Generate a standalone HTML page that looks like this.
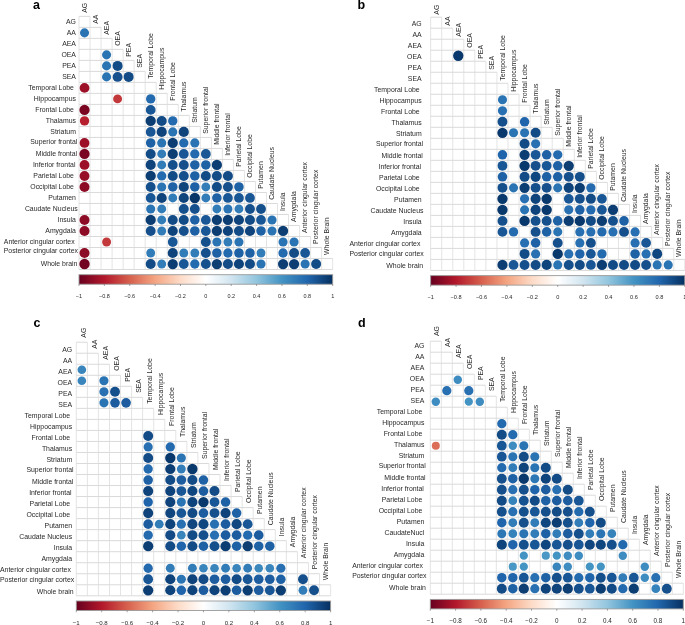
<!DOCTYPE html><html><head><meta charset="utf-8"><style>html,body{margin:0;padding:0;background:#fff;}svg{display:block;will-change:transform;}</style></head><body><svg width="685" height="625" viewBox="0 0 685 625">
<defs><linearGradient id="rdbu" x1="0" x2="1" y1="0" y2="0">
<stop offset="0.0" stop-color="#67001F"/>
<stop offset="0.1" stop-color="#B2182B"/>
<stop offset="0.2" stop-color="#D6604D"/>
<stop offset="0.3" stop-color="#F4A582"/>
<stop offset="0.4" stop-color="#FDDBC7"/>
<stop offset="0.5" stop-color="#FFFFFF"/>
<stop offset="0.6" stop-color="#D1E5F0"/>
<stop offset="0.7" stop-color="#92C5DE"/>
<stop offset="0.8" stop-color="#4393C3"/>
<stop offset="0.9" stop-color="#2166AC"/>
<stop offset="1.0" stop-color="#053061"/>
</linearGradient></defs>
<rect width="685" height="625" fill="#fff"/>
<path d="M79.00 16.35V269.51M90.03 16.35V269.51M101.06 27.36V269.51M112.09 38.36V269.51M123.12 49.37V269.51M134.15 60.38V269.51M145.18 71.38V269.51M156.21 82.39V269.51M167.24 93.40V269.51M178.27 104.41V269.51M189.30 115.41V269.51M200.33 126.42V269.51M211.36 137.43V269.51M222.39 148.43V269.51M233.42 159.44V269.51M244.45 170.45V269.51M255.48 181.45V269.51M266.51 192.46V269.51M277.54 203.47V269.51M288.57 214.48V269.51M299.60 225.48V269.51M310.63 236.49V269.51M321.66 247.50V269.51M332.69 258.50V269.51" stroke="#e4e4e4" stroke-width="1" fill="none"/>
<path d="M79.00 16.35H90.03M79.00 27.36H101.06M79.00 38.36H112.09M79.00 49.37H123.12M79.00 60.38H134.15M79.00 71.38H145.18M79.00 82.39H156.21M79.00 93.40H167.24M79.00 104.41H178.27M79.00 115.41H189.30M79.00 126.42H200.33M79.00 137.43H211.36M79.00 148.43H222.39M79.00 159.44H233.42M79.00 170.45H244.45M79.00 181.45H255.48M79.00 192.46H266.51M79.00 203.47H277.54M79.00 214.48H288.57M79.00 225.48H299.60M79.00 236.49H310.63M79.00 247.50H321.66M79.00 258.50H332.69M79.00 269.51H332.69" stroke="#dadada" stroke-width="1" fill="none"/>
<circle cx="84.52" cy="32.86" r="4.56" fill="#2b74b3"/>
<circle cx="106.58" cy="54.87" r="4.56" fill="#2b74b3"/>
<circle cx="106.58" cy="65.88" r="4.56" fill="#2b74b3"/>
<circle cx="117.60" cy="65.88" r="5.00" fill="#134b86"/>
<circle cx="106.58" cy="76.89" r="4.56" fill="#2b74b3"/>
<circle cx="117.60" cy="76.89" r="4.95" fill="#154f8c"/>
<circle cx="128.63" cy="76.89" r="5.00" fill="#134b86"/>
<circle cx="84.52" cy="87.90" r="4.89" fill="#9c1127"/>
<circle cx="117.60" cy="98.90" r="4.47" fill="#c3393b"/>
<circle cx="150.69" cy="98.90" r="4.67" fill="#246aae"/>
<circle cx="84.52" cy="109.91" r="5.12" fill="#7a0622"/>
<circle cx="150.69" cy="109.91" r="4.89" fill="#195696"/>
<circle cx="84.52" cy="120.92" r="4.67" fill="#b61f2e"/>
<circle cx="150.69" cy="120.92" r="5.12" fill="#0c3e74"/>
<circle cx="161.72" cy="120.92" r="5.00" fill="#134b86"/>
<circle cx="172.75" cy="120.92" r="4.67" fill="#246aae"/>
<circle cx="150.69" cy="131.92" r="4.89" fill="#195696"/>
<circle cx="161.72" cy="131.92" r="5.07" fill="#0f437b"/>
<circle cx="172.75" cy="131.92" r="4.56" fill="#2b74b3"/>
<circle cx="183.78" cy="131.92" r="5.07" fill="#0f437b"/>
<circle cx="84.52" cy="142.93" r="4.89" fill="#9c1127"/>
<circle cx="150.69" cy="142.93" r="4.78" fill="#1e61a5"/>
<circle cx="161.72" cy="142.93" r="4.56" fill="#2b74b3"/>
<circle cx="172.75" cy="142.93" r="5.12" fill="#0c3e74"/>
<circle cx="183.78" cy="142.93" r="4.67" fill="#246aae"/>
<circle cx="194.81" cy="142.93" r="4.56" fill="#2b74b3"/>
<circle cx="84.52" cy="153.94" r="5.12" fill="#7a0622"/>
<circle cx="150.69" cy="153.94" r="5.00" fill="#134b86"/>
<circle cx="161.72" cy="153.94" r="4.44" fill="#327cb8"/>
<circle cx="172.75" cy="153.94" r="5.12" fill="#0c3e74"/>
<circle cx="183.78" cy="153.94" r="4.89" fill="#195696"/>
<circle cx="194.81" cy="153.94" r="4.67" fill="#246aae"/>
<circle cx="205.84" cy="153.94" r="4.89" fill="#195696"/>
<circle cx="84.52" cy="164.94" r="4.89" fill="#9c1127"/>
<circle cx="150.69" cy="164.94" r="5.07" fill="#0f437b"/>
<circle cx="161.72" cy="164.94" r="4.44" fill="#327cb8"/>
<circle cx="172.75" cy="164.94" r="4.95" fill="#154f8c"/>
<circle cx="183.78" cy="164.94" r="4.95" fill="#154f8c"/>
<circle cx="194.81" cy="164.94" r="4.78" fill="#1e61a5"/>
<circle cx="205.84" cy="164.94" r="4.78" fill="#1e61a5"/>
<circle cx="216.88" cy="164.94" r="5.12" fill="#0c3e74"/>
<circle cx="84.52" cy="175.95" r="4.93" fill="#960f26"/>
<circle cx="150.69" cy="175.95" r="5.12" fill="#0c3e74"/>
<circle cx="161.72" cy="175.95" r="4.67" fill="#246aae"/>
<circle cx="172.75" cy="175.95" r="5.00" fill="#134b86"/>
<circle cx="183.78" cy="175.95" r="4.95" fill="#154f8c"/>
<circle cx="194.81" cy="175.95" r="4.78" fill="#1e61a5"/>
<circle cx="205.84" cy="175.95" r="5.00" fill="#134b86"/>
<circle cx="216.88" cy="175.95" r="5.00" fill="#134b86"/>
<circle cx="227.91" cy="175.95" r="5.00" fill="#134b86"/>
<circle cx="84.52" cy="186.96" r="5.00" fill="#8c0c25"/>
<circle cx="150.69" cy="186.96" r="4.95" fill="#154f8c"/>
<circle cx="161.72" cy="186.96" r="4.56" fill="#2b74b3"/>
<circle cx="172.75" cy="186.96" r="4.78" fill="#1e61a5"/>
<circle cx="183.78" cy="186.96" r="5.07" fill="#0f437b"/>
<circle cx="194.81" cy="186.96" r="4.78" fill="#1e61a5"/>
<circle cx="205.84" cy="186.96" r="4.44" fill="#327cb8"/>
<circle cx="216.88" cy="186.96" r="5.00" fill="#134b86"/>
<circle cx="227.91" cy="186.96" r="4.95" fill="#154f8c"/>
<circle cx="238.94" cy="186.96" r="4.78" fill="#1e61a5"/>
<circle cx="150.69" cy="197.97" r="4.89" fill="#195696"/>
<circle cx="161.72" cy="197.97" r="5.07" fill="#0f437b"/>
<circle cx="172.75" cy="197.97" r="4.44" fill="#327cb8"/>
<circle cx="183.78" cy="197.97" r="5.07" fill="#0f437b"/>
<circle cx="194.81" cy="197.97" r="5.20" fill="#083568"/>
<circle cx="205.84" cy="197.97" r="4.44" fill="#327cb8"/>
<circle cx="216.88" cy="197.97" r="4.78" fill="#1e61a5"/>
<circle cx="227.91" cy="197.97" r="4.89" fill="#195696"/>
<circle cx="238.94" cy="197.97" r="4.89" fill="#195696"/>
<circle cx="249.97" cy="197.97" r="4.89" fill="#195696"/>
<circle cx="150.69" cy="208.97" r="4.56" fill="#2b74b3"/>
<circle cx="161.72" cy="208.97" r="4.44" fill="#327cb8"/>
<circle cx="183.78" cy="208.97" r="4.95" fill="#154f8c"/>
<circle cx="194.81" cy="208.97" r="4.95" fill="#154f8c"/>
<circle cx="216.88" cy="208.97" r="4.44" fill="#327cb8"/>
<circle cx="227.91" cy="208.97" r="4.56" fill="#2b74b3"/>
<circle cx="238.94" cy="208.97" r="4.44" fill="#327cb8"/>
<circle cx="249.97" cy="208.97" r="4.95" fill="#154f8c"/>
<circle cx="261.00" cy="208.97" r="4.95" fill="#154f8c"/>
<circle cx="84.52" cy="219.98" r="5.00" fill="#8c0c25"/>
<circle cx="150.69" cy="219.98" r="5.12" fill="#0c3e74"/>
<circle cx="161.72" cy="219.98" r="4.44" fill="#327cb8"/>
<circle cx="172.75" cy="219.98" r="5.00" fill="#134b86"/>
<circle cx="183.78" cy="219.98" r="5.00" fill="#134b86"/>
<circle cx="194.81" cy="219.98" r="4.78" fill="#1e61a5"/>
<circle cx="205.84" cy="219.98" r="4.89" fill="#195696"/>
<circle cx="216.88" cy="219.98" r="5.12" fill="#0c3e74"/>
<circle cx="227.91" cy="219.98" r="5.12" fill="#0c3e74"/>
<circle cx="238.94" cy="219.98" r="5.07" fill="#0f437b"/>
<circle cx="249.97" cy="219.98" r="5.00" fill="#134b86"/>
<circle cx="261.00" cy="219.98" r="4.89" fill="#195696"/>
<circle cx="272.02" cy="219.98" r="4.56" fill="#2b74b3"/>
<circle cx="84.52" cy="230.99" r="5.00" fill="#8c0c25"/>
<circle cx="150.69" cy="230.99" r="4.95" fill="#154f8c"/>
<circle cx="161.72" cy="230.99" r="4.44" fill="#327cb8"/>
<circle cx="172.75" cy="230.99" r="5.07" fill="#0f437b"/>
<circle cx="183.78" cy="230.99" r="4.95" fill="#154f8c"/>
<circle cx="194.81" cy="230.99" r="4.78" fill="#1e61a5"/>
<circle cx="205.84" cy="230.99" r="4.89" fill="#195696"/>
<circle cx="216.88" cy="230.99" r="5.12" fill="#0c3e74"/>
<circle cx="227.91" cy="230.99" r="5.07" fill="#0f437b"/>
<circle cx="238.94" cy="230.99" r="5.00" fill="#134b86"/>
<circle cx="249.97" cy="230.99" r="5.07" fill="#0f437b"/>
<circle cx="261.00" cy="230.99" r="4.78" fill="#1e61a5"/>
<circle cx="272.02" cy="230.99" r="4.56" fill="#2b74b3"/>
<circle cx="283.05" cy="230.99" r="5.12" fill="#0c3e74"/>
<circle cx="106.58" cy="241.99" r="4.47" fill="#c3393b"/>
<circle cx="172.75" cy="241.99" r="4.89" fill="#195696"/>
<circle cx="205.84" cy="241.99" r="4.95" fill="#154f8c"/>
<circle cx="216.88" cy="241.99" r="4.56" fill="#2b74b3"/>
<circle cx="227.91" cy="241.99" r="4.44" fill="#327cb8"/>
<circle cx="238.94" cy="241.99" r="4.56" fill="#2b74b3"/>
<circle cx="283.05" cy="241.99" r="4.56" fill="#2b74b3"/>
<circle cx="294.08" cy="241.99" r="4.56" fill="#2b74b3"/>
<circle cx="84.52" cy="253.00" r="5.00" fill="#8c0c25"/>
<circle cx="150.69" cy="253.00" r="4.44" fill="#327cb8"/>
<circle cx="172.75" cy="253.00" r="5.07" fill="#0f437b"/>
<circle cx="183.78" cy="253.00" r="4.44" fill="#327cb8"/>
<circle cx="194.81" cy="253.00" r="4.44" fill="#327cb8"/>
<circle cx="205.84" cy="253.00" r="4.95" fill="#154f8c"/>
<circle cx="216.88" cy="253.00" r="4.78" fill="#1e61a5"/>
<circle cx="227.91" cy="253.00" r="4.67" fill="#246aae"/>
<circle cx="238.94" cy="253.00" r="4.78" fill="#1e61a5"/>
<circle cx="249.97" cy="253.00" r="4.78" fill="#1e61a5"/>
<circle cx="261.00" cy="253.00" r="4.44" fill="#327cb8"/>
<circle cx="283.05" cy="253.00" r="4.67" fill="#246aae"/>
<circle cx="294.08" cy="253.00" r="5.00" fill="#134b86"/>
<circle cx="305.12" cy="253.00" r="4.89" fill="#195696"/>
<circle cx="84.52" cy="264.01" r="5.18" fill="#720421"/>
<circle cx="150.69" cy="264.01" r="5.00" fill="#134b86"/>
<circle cx="161.72" cy="264.01" r="4.44" fill="#327cb8"/>
<circle cx="172.75" cy="264.01" r="5.12" fill="#0c3e74"/>
<circle cx="183.78" cy="264.01" r="4.89" fill="#195696"/>
<circle cx="194.81" cy="264.01" r="4.67" fill="#246aae"/>
<circle cx="205.84" cy="264.01" r="4.95" fill="#154f8c"/>
<circle cx="216.88" cy="264.01" r="5.12" fill="#0c3e74"/>
<circle cx="227.91" cy="264.01" r="5.00" fill="#134b86"/>
<circle cx="238.94" cy="264.01" r="5.07" fill="#0f437b"/>
<circle cx="249.97" cy="264.01" r="5.00" fill="#134b86"/>
<circle cx="261.00" cy="264.01" r="4.56" fill="#2b74b3"/>
<circle cx="283.05" cy="264.01" r="5.12" fill="#0c3e74"/>
<circle cx="294.08" cy="264.01" r="5.12" fill="#0c3e74"/>
<circle cx="305.12" cy="264.01" r="4.56" fill="#2b74b3"/>
<circle cx="316.14" cy="264.01" r="5.00" fill="#134b86"/>
<g font-family="Liberation Sans, sans-serif" font-size="6.9" fill="#282828" text-anchor="end">
<text x="75.95" y="23.70">AG</text>
<text x="75.95" y="34.71">AA</text>
<text x="75.95" y="45.72">AEA</text>
<text x="75.95" y="56.72">OEA</text>
<text x="75.95" y="67.73">PEA</text>
<text x="75.95" y="78.74">SEA</text>
<text x="73.95" y="89.75">Temporal Lobe</text>
<text x="75.95" y="100.75">Hippocampus</text>
<text x="73.95" y="111.76">Frontal Lobe</text>
<text x="75.95" y="122.77">Thalamus</text>
<text x="75.95" y="133.77">Striatum</text>
<text x="77.35" y="143.68">Superior frontal</text>
<text x="77.15" y="155.79">Middle frontal</text>
<text x="75.45" y="166.79">Inferior frontal</text>
<text x="73.95" y="177.80">Parietal Lobe</text>
<text x="73.95" y="188.81">Occipital Lobe</text>
<text x="75.95" y="199.82">Putamen</text>
<text x="77.75" y="210.82">Caudate Nucleus</text>
<text x="75.95" y="221.83">Insula</text>
<text x="75.95" y="232.84">Amygdala</text>
<text x="74.65" y="243.84">Anterior cingular cortex</text>
<text x="78.05" y="253.35">Posterior cingular cortex</text>
<text x="77.45" y="265.86">Whole brain</text>
</g>
<g font-family="Liberation Sans, sans-serif" font-size="6.9" fill="#282828">
<text transform="translate(87.00,12.75) rotate(-90)">AG</text>
<text transform="translate(98.02,23.76) rotate(-90)">AA</text>
<text transform="translate(109.04,34.76) rotate(-90)">AEA</text>
<text transform="translate(120.06,45.77) rotate(-90)">OEA</text>
<text transform="translate(131.08,56.78) rotate(-90)">PEA</text>
<text transform="translate(142.10,67.78) rotate(-90)">SEA</text>
<text transform="translate(153.12,78.79) rotate(-90)">Temporal Lobe</text>
<text transform="translate(164.14,89.80) rotate(-90)">Hippocampus</text>
<text transform="translate(175.16,100.81) rotate(-90)">Frontal Lobe</text>
<text transform="translate(186.18,111.81) rotate(-90)">Thalamus</text>
<text transform="translate(197.20,122.82) rotate(-90)">Striatum</text>
<text transform="translate(208.22,133.83) rotate(-90)">Superior frontal</text>
<text transform="translate(219.24,144.83) rotate(-90)">Middle frontal</text>
<text transform="translate(230.26,155.84) rotate(-90)">Inferior frontal</text>
<text transform="translate(241.28,166.85) rotate(-90)">Parietal Lobe</text>
<text transform="translate(252.30,177.85) rotate(-90)">Occipital Lobe</text>
<text transform="translate(263.32,188.86) rotate(-90)">Putamen</text>
<text transform="translate(274.34,199.87) rotate(-90)">Caudate Nucleus</text>
<text transform="translate(285.36,210.88) rotate(-90)">Insula</text>
<text transform="translate(296.38,221.88) rotate(-90)">Amygdala</text>
<text transform="translate(307.40,232.89) rotate(-90)">Anterior cingular cortex</text>
<text transform="translate(318.42,243.90) rotate(-90)">Posterior cingular cortex</text>
<text transform="translate(329.44,254.90) rotate(-90)">Whole Brain</text>
</g>
<rect x="79.00" y="274.71" width="253.69" height="9.5" fill="url(#rdbu)"/>
<rect x="79.00" y="274.71" width="253.69" height="9.5" fill="none" stroke="#9a9a9a" stroke-width="0.9"/>
<path d="M79.00 284.21v1.8M104.37 284.21v1.8M129.74 284.21v1.8M155.11 284.21v1.8M180.48 284.21v1.8M205.84 284.21v1.8M231.21 284.21v1.8M256.58 284.21v1.8M281.95 284.21v1.8M307.32 284.21v1.8M332.69 284.21v1.8" stroke="#666" stroke-width="0.6"/>
<g font-family="Liberation Sans, sans-serif" font-size="5.5" fill="#282828" text-anchor="middle"><text x="79.00" y="298.18">−1</text><text x="104.37" y="298.18">−0.8</text><text x="129.74" y="298.18">−0.6</text><text x="155.11" y="298.18">−0.4</text><text x="180.48" y="298.18">−0.2</text><text x="205.84" y="298.18">0</text><text x="231.21" y="298.18">0.2</text><text x="256.58" y="298.18">0.4</text><text x="281.95" y="298.18">0.6</text><text x="307.32" y="298.18">0.8</text><text x="332.69" y="298.18">1</text></g>
<text x="33.0" y="9.0" font-family="Liberation Sans, sans-serif" font-weight="bold" font-size="12.5" fill="#000">a</text>
<path d="M430.65 17.20V270.43M441.70 17.20V270.43M452.75 28.21V270.43M463.80 39.22V270.43M474.85 50.23V270.43M485.90 61.24V270.43M496.95 72.25V270.43M508.00 83.26V270.43M519.05 94.27V270.43M530.10 105.28V270.43M541.15 116.29V270.43M552.20 127.30V270.43M563.25 138.31V270.43M574.30 149.32V270.43M585.35 160.33V270.43M596.40 171.34V270.43M607.45 182.35V270.43M618.50 193.36V270.43M629.55 204.37V270.43M640.60 215.38V270.43M651.65 226.39V270.43M662.70 237.40V270.43M673.75 248.41V270.43M684.80 259.42V270.43" stroke="#e4e4e4" stroke-width="1" fill="none"/>
<path d="M430.65 17.20H441.70M430.65 28.21H452.75M430.65 39.22H463.80M430.65 50.23H474.85M430.65 61.24H485.90M430.65 72.25H496.95M430.65 83.26H508.00M430.65 94.27H519.05M430.65 105.28H530.10M430.65 116.29H541.15M430.65 127.30H552.20M430.65 138.31H563.25M430.65 149.32H574.30M430.65 160.33H585.35M430.65 171.34H596.40M430.65 182.35H607.45M430.65 193.36H618.50M430.65 204.37H629.55M430.65 215.38H640.60M430.65 226.39H651.65M430.65 237.40H662.70M430.65 248.41H673.75M430.65 259.42H684.80M430.65 270.43H684.80" stroke="#dadada" stroke-width="1" fill="none"/>
<circle cx="458.27" cy="55.73" r="5.18" fill="#09386c"/>
<circle cx="502.47" cy="99.78" r="4.56" fill="#2b74b3"/>
<circle cx="502.47" cy="110.78" r="4.60" fill="#2870b1"/>
<circle cx="502.47" cy="121.80" r="4.95" fill="#154f8c"/>
<circle cx="524.58" cy="121.80" r="4.74" fill="#2065ab"/>
<circle cx="502.47" cy="132.81" r="5.18" fill="#09386c"/>
<circle cx="513.52" cy="132.81" r="4.56" fill="#2b74b3"/>
<circle cx="524.58" cy="132.81" r="4.56" fill="#2b74b3"/>
<circle cx="535.62" cy="132.81" r="5.00" fill="#134b86"/>
<circle cx="524.58" cy="143.81" r="5.00" fill="#134b86"/>
<circle cx="535.62" cy="143.81" r="4.60" fill="#2870b1"/>
<circle cx="502.47" cy="154.82" r="4.74" fill="#2065ab"/>
<circle cx="524.58" cy="154.82" r="5.12" fill="#0c3e74"/>
<circle cx="535.62" cy="154.82" r="4.89" fill="#195696"/>
<circle cx="546.67" cy="154.82" r="4.78" fill="#1e61a5"/>
<circle cx="557.73" cy="154.82" r="4.67" fill="#246aae"/>
<circle cx="502.47" cy="165.83" r="4.89" fill="#195696"/>
<circle cx="524.58" cy="165.83" r="5.18" fill="#09386c"/>
<circle cx="535.62" cy="165.83" r="4.95" fill="#154f8c"/>
<circle cx="546.67" cy="165.83" r="4.89" fill="#195696"/>
<circle cx="557.73" cy="165.83" r="4.78" fill="#1e61a5"/>
<circle cx="568.77" cy="165.83" r="5.12" fill="#0c3e74"/>
<circle cx="502.47" cy="176.84" r="4.78" fill="#1e61a5"/>
<circle cx="524.58" cy="176.84" r="5.00" fill="#134b86"/>
<circle cx="535.62" cy="176.84" r="5.05" fill="#10467f"/>
<circle cx="546.67" cy="176.84" r="4.78" fill="#1e61a5"/>
<circle cx="557.73" cy="176.84" r="4.78" fill="#1e61a5"/>
<circle cx="568.77" cy="176.84" r="4.95" fill="#154f8c"/>
<circle cx="579.83" cy="176.84" r="4.95" fill="#154f8c"/>
<circle cx="502.47" cy="187.85" r="4.95" fill="#154f8c"/>
<circle cx="513.52" cy="187.85" r="4.56" fill="#2b74b3"/>
<circle cx="524.58" cy="187.85" r="5.12" fill="#0c3e74"/>
<circle cx="535.62" cy="187.85" r="4.95" fill="#154f8c"/>
<circle cx="546.67" cy="187.85" r="4.95" fill="#154f8c"/>
<circle cx="557.73" cy="187.85" r="4.56" fill="#2b74b3"/>
<circle cx="568.77" cy="187.85" r="5.07" fill="#0f437b"/>
<circle cx="579.83" cy="187.85" r="5.12" fill="#0c3e74"/>
<circle cx="590.88" cy="187.85" r="4.67" fill="#246aae"/>
<circle cx="502.47" cy="198.86" r="5.18" fill="#09386c"/>
<circle cx="524.58" cy="198.86" r="4.60" fill="#2870b1"/>
<circle cx="535.62" cy="198.86" r="5.07" fill="#0f437b"/>
<circle cx="546.67" cy="198.86" r="5.18" fill="#09386c"/>
<circle cx="568.77" cy="198.86" r="4.89" fill="#195696"/>
<circle cx="579.83" cy="198.86" r="4.95" fill="#154f8c"/>
<circle cx="590.88" cy="198.86" r="5.00" fill="#134b86"/>
<circle cx="601.92" cy="198.86" r="4.89" fill="#195696"/>
<circle cx="502.47" cy="209.87" r="5.18" fill="#09386c"/>
<circle cx="524.58" cy="209.87" r="4.56" fill="#2b74b3"/>
<circle cx="535.62" cy="209.87" r="5.07" fill="#0f437b"/>
<circle cx="546.67" cy="209.87" r="5.18" fill="#09386c"/>
<circle cx="568.77" cy="209.87" r="4.60" fill="#2870b1"/>
<circle cx="579.83" cy="209.87" r="4.78" fill="#1e61a5"/>
<circle cx="590.88" cy="209.87" r="4.67" fill="#246aae"/>
<circle cx="601.92" cy="209.87" r="4.89" fill="#195696"/>
<circle cx="612.98" cy="209.87" r="5.12" fill="#0c3e74"/>
<circle cx="502.47" cy="220.88" r="4.95" fill="#154f8c"/>
<circle cx="524.58" cy="220.88" r="5.18" fill="#09386c"/>
<circle cx="535.62" cy="220.88" r="4.95" fill="#154f8c"/>
<circle cx="546.67" cy="220.88" r="4.95" fill="#154f8c"/>
<circle cx="557.73" cy="220.88" r="4.78" fill="#1e61a5"/>
<circle cx="568.77" cy="220.88" r="5.12" fill="#0c3e74"/>
<circle cx="579.83" cy="220.88" r="5.18" fill="#09386c"/>
<circle cx="590.88" cy="220.88" r="5.00" fill="#134b86"/>
<circle cx="601.92" cy="220.88" r="5.12" fill="#0c3e74"/>
<circle cx="612.98" cy="220.88" r="4.95" fill="#154f8c"/>
<circle cx="624.02" cy="220.88" r="4.78" fill="#1e61a5"/>
<circle cx="502.47" cy="231.89" r="4.89" fill="#195696"/>
<circle cx="513.52" cy="231.89" r="4.67" fill="#246aae"/>
<circle cx="535.62" cy="231.89" r="4.95" fill="#154f8c"/>
<circle cx="546.67" cy="231.89" r="4.78" fill="#1e61a5"/>
<circle cx="557.73" cy="231.89" r="4.56" fill="#2b74b3"/>
<circle cx="579.83" cy="231.89" r="4.60" fill="#2870b1"/>
<circle cx="590.88" cy="231.89" r="4.60" fill="#2870b1"/>
<circle cx="601.92" cy="231.89" r="4.67" fill="#246aae"/>
<circle cx="612.98" cy="231.89" r="4.60" fill="#2870b1"/>
<circle cx="624.02" cy="231.89" r="4.95" fill="#154f8c"/>
<circle cx="635.08" cy="231.89" r="4.60" fill="#2870b1"/>
<circle cx="524.58" cy="242.90" r="4.60" fill="#2870b1"/>
<circle cx="535.62" cy="242.90" r="4.78" fill="#1e61a5"/>
<circle cx="557.73" cy="242.90" r="4.95" fill="#154f8c"/>
<circle cx="579.83" cy="242.90" r="4.60" fill="#2870b1"/>
<circle cx="590.88" cy="242.90" r="4.95" fill="#154f8c"/>
<circle cx="635.08" cy="242.90" r="4.60" fill="#2870b1"/>
<circle cx="646.12" cy="242.90" r="4.89" fill="#195696"/>
<circle cx="524.58" cy="253.91" r="5.00" fill="#134b86"/>
<circle cx="535.62" cy="253.91" r="4.60" fill="#2870b1"/>
<circle cx="557.73" cy="253.91" r="5.18" fill="#09386c"/>
<circle cx="568.77" cy="253.91" r="4.60" fill="#2870b1"/>
<circle cx="579.83" cy="253.91" r="4.74" fill="#2065ab"/>
<circle cx="590.88" cy="253.91" r="4.89" fill="#195696"/>
<circle cx="601.92" cy="253.91" r="4.67" fill="#246aae"/>
<circle cx="635.08" cy="253.91" r="4.78" fill="#1e61a5"/>
<circle cx="646.12" cy="253.91" r="4.60" fill="#2870b1"/>
<circle cx="657.17" cy="253.91" r="5.05" fill="#10467f"/>
<circle cx="502.47" cy="264.93" r="5.12" fill="#0c3e74"/>
<circle cx="513.52" cy="264.93" r="4.89" fill="#195696"/>
<circle cx="524.58" cy="264.93" r="4.95" fill="#154f8c"/>
<circle cx="535.62" cy="264.93" r="5.00" fill="#134b86"/>
<circle cx="546.67" cy="264.93" r="5.07" fill="#0f437b"/>
<circle cx="557.73" cy="264.93" r="4.56" fill="#2b74b3"/>
<circle cx="568.77" cy="264.93" r="4.95" fill="#154f8c"/>
<circle cx="579.83" cy="264.93" r="5.00" fill="#134b86"/>
<circle cx="590.88" cy="264.93" r="4.89" fill="#195696"/>
<circle cx="601.92" cy="264.93" r="5.12" fill="#0c3e74"/>
<circle cx="612.98" cy="264.93" r="5.00" fill="#134b86"/>
<circle cx="624.02" cy="264.93" r="5.00" fill="#134b86"/>
<circle cx="635.08" cy="264.93" r="5.00" fill="#134b86"/>
<circle cx="646.12" cy="264.93" r="4.95" fill="#154f8c"/>
<circle cx="657.17" cy="264.93" r="4.56" fill="#2b74b3"/>
<circle cx="668.23" cy="264.93" r="4.56" fill="#2b74b3"/>
<g font-family="Liberation Sans, sans-serif" font-size="6.9" fill="#282828" text-anchor="end">
<text x="421.65" y="26.00">AG</text>
<text x="421.65" y="37.02">AA</text>
<text x="421.65" y="48.02">AEA</text>
<text x="421.65" y="59.03">OEA</text>
<text x="421.65" y="70.05">PEA</text>
<text x="421.65" y="81.05">SEA</text>
<text x="419.65" y="92.06">Temporal Lobe</text>
<text x="421.65" y="103.08">Hippocampus</text>
<text x="419.65" y="114.08">Frontal Lobe</text>
<text x="421.65" y="125.09">Thalamus</text>
<text x="421.65" y="136.11">Striatum</text>
<text x="423.05" y="146.02">Superior frontal</text>
<text x="422.85" y="158.12">Middle frontal</text>
<text x="421.15" y="169.13">Inferior frontal</text>
<text x="419.65" y="180.15">Parietal Lobe</text>
<text x="419.65" y="191.16">Occipital Lobe</text>
<text x="421.65" y="202.16">Putamen</text>
<text x="423.45" y="213.17">Caudate Nucleus</text>
<text x="421.65" y="224.19">Insula</text>
<text x="421.65" y="235.19">Amygdala</text>
<text x="420.35" y="246.20">Anterior cingular cortex</text>
<text x="423.75" y="255.71">Posterior cingular cortex</text>
<text x="423.15" y="268.23">Whole brain</text>
</g>
<g font-family="Liberation Sans, sans-serif" font-size="6.9" fill="#282828">
<text transform="translate(438.90,14.70) rotate(-90)">AG</text>
<text transform="translate(449.90,25.71) rotate(-90)">AA</text>
<text transform="translate(460.90,36.72) rotate(-90)">AEA</text>
<text transform="translate(471.90,47.73) rotate(-90)">OEA</text>
<text transform="translate(482.90,58.74) rotate(-90)">PEA</text>
<text transform="translate(493.90,69.75) rotate(-90)">SEA</text>
<text transform="translate(504.90,80.76) rotate(-90)">Temporal Lobe</text>
<text transform="translate(515.90,91.77) rotate(-90)">Hippocampus</text>
<text transform="translate(526.90,102.78) rotate(-90)">Frontal Lobe</text>
<text transform="translate(537.90,113.79) rotate(-90)">Thalamus</text>
<text transform="translate(548.90,124.80) rotate(-90)">Striatum</text>
<text transform="translate(559.90,135.81) rotate(-90)">Superior frontal</text>
<text transform="translate(570.90,146.82) rotate(-90)">Middle frontal</text>
<text transform="translate(581.90,157.83) rotate(-90)">Inferior frontal</text>
<text transform="translate(592.90,168.84) rotate(-90)">Parietal Lobe</text>
<text transform="translate(603.90,179.85) rotate(-90)">Occipital Lobe</text>
<text transform="translate(614.90,190.86) rotate(-90)">Putamen</text>
<text transform="translate(625.90,201.87) rotate(-90)">Caudate Nucleus</text>
<text transform="translate(636.90,212.88) rotate(-90)">Insula</text>
<text transform="translate(647.90,223.89) rotate(-90)">Amygdala</text>
<text transform="translate(658.90,234.90) rotate(-90)">Anterior cingular cortex</text>
<text transform="translate(669.90,245.91) rotate(-90)">Posterior cingular cortex</text>
<text transform="translate(680.90,256.92) rotate(-90)">Whole Brain</text>
</g>
<rect x="430.65" y="275.63" width="254.15" height="9.5" fill="url(#rdbu)"/>
<rect x="430.65" y="275.63" width="254.15" height="9.5" fill="none" stroke="#9a9a9a" stroke-width="0.9"/>
<path d="M430.65 285.13v1.8M456.06 285.13v1.8M481.48 285.13v1.8M506.89 285.13v1.8M532.31 285.13v1.8M557.73 285.13v1.8M583.14 285.13v1.8M608.55 285.13v1.8M633.97 285.13v1.8M659.38 285.13v1.8M684.80 285.13v1.8" stroke="#666" stroke-width="0.6"/>
<g font-family="Liberation Sans, sans-serif" font-size="5.6" fill="#282828" text-anchor="middle"><text x="430.65" y="299.13">−1</text><text x="456.06" y="299.13">−0.8</text><text x="481.48" y="299.13">−0.6</text><text x="506.89" y="299.13">−0.4</text><text x="532.31" y="299.13">−0.2</text><text x="557.73" y="299.13">0</text><text x="583.14" y="299.13">0.2</text><text x="608.55" y="299.13">0.4</text><text x="633.97" y="299.13">0.6</text><text x="659.38" y="299.13">0.8</text><text x="684.80" y="299.13">1</text></g>
<text x="357.6" y="8.8" font-family="Liberation Sans, sans-serif" font-weight="bold" font-size="12.5" fill="#000">b</text>
<path d="M76.30 342.20V595.80M87.36 342.20V595.80M98.41 353.23V595.80M109.47 364.25V595.80M120.53 375.28V595.80M131.59 386.30V595.80M142.64 397.33V595.80M153.70 408.36V595.80M164.76 419.38V595.80M175.81 430.41V595.80M186.87 441.43V595.80M197.93 452.46V595.80M208.98 463.49V595.80M220.04 474.51V595.80M231.10 485.54V595.80M242.16 496.56V595.80M253.21 507.59V595.80M264.27 518.62V595.80M275.33 529.64V595.80M286.38 540.67V595.80M297.44 551.69V595.80M308.50 562.72V595.80M319.55 573.75V595.80M330.61 584.77V595.80" stroke="#e4e4e4" stroke-width="1" fill="none"/>
<path d="M76.30 342.20H87.36M76.30 353.23H98.41M76.30 364.25H109.47M76.30 375.28H120.53M76.30 386.30H131.59M76.30 397.33H142.64M76.30 408.36H153.70M76.30 419.38H164.76M76.30 430.41H175.81M76.30 441.43H186.87M76.30 452.46H197.93M76.30 463.49H208.98M76.30 474.51H220.04M76.30 485.54H231.10M76.30 496.56H242.16M76.30 507.59H253.21M76.30 518.62H264.27M76.30 529.64H275.33M76.30 540.67H286.38M76.30 551.69H297.44M76.30 562.72H308.50M76.30 573.75H319.55M76.30 584.77H330.61M76.30 595.80H330.61" stroke="#dadada" stroke-width="1" fill="none"/>
<circle cx="81.83" cy="369.76" r="4.32" fill="#3985bc"/>
<circle cx="81.83" cy="380.79" r="4.32" fill="#3985bc"/>
<circle cx="103.94" cy="380.79" r="4.56" fill="#2b74b3"/>
<circle cx="103.94" cy="391.82" r="4.60" fill="#2870b1"/>
<circle cx="115.00" cy="391.82" r="4.95" fill="#154f8c"/>
<circle cx="103.94" cy="402.84" r="4.56" fill="#2b74b3"/>
<circle cx="115.00" cy="402.84" r="4.83" fill="#1c5c9f"/>
<circle cx="126.06" cy="402.84" r="4.83" fill="#1c5c9f"/>
<circle cx="148.17" cy="435.92" r="5.00" fill="#134b86"/>
<circle cx="148.17" cy="446.95" r="4.60" fill="#2870b1"/>
<circle cx="170.28" cy="446.95" r="4.67" fill="#246aae"/>
<circle cx="148.17" cy="457.97" r="5.00" fill="#134b86"/>
<circle cx="170.28" cy="457.97" r="5.18" fill="#09386c"/>
<circle cx="181.34" cy="457.97" r="4.56" fill="#2b74b3"/>
<circle cx="148.17" cy="469.00" r="4.67" fill="#246aae"/>
<circle cx="170.28" cy="469.00" r="5.12" fill="#0c3e74"/>
<circle cx="181.34" cy="469.00" r="4.44" fill="#327cb8"/>
<circle cx="192.40" cy="469.00" r="5.18" fill="#09386c"/>
<circle cx="148.17" cy="480.02" r="4.78" fill="#1e61a5"/>
<circle cx="170.28" cy="480.02" r="5.00" fill="#134b86"/>
<circle cx="181.34" cy="480.02" r="4.83" fill="#1c5c9f"/>
<circle cx="192.40" cy="480.02" r="5.00" fill="#134b86"/>
<circle cx="203.46" cy="480.02" r="4.78" fill="#1e61a5"/>
<circle cx="148.17" cy="491.05" r="5.07" fill="#0f437b"/>
<circle cx="170.28" cy="491.05" r="5.07" fill="#0f437b"/>
<circle cx="181.34" cy="491.05" r="4.89" fill="#195696"/>
<circle cx="192.40" cy="491.05" r="5.05" fill="#10467f"/>
<circle cx="203.46" cy="491.05" r="4.83" fill="#1c5c9f"/>
<circle cx="214.51" cy="491.05" r="5.00" fill="#134b86"/>
<circle cx="148.17" cy="502.08" r="4.74" fill="#2065ab"/>
<circle cx="170.28" cy="502.08" r="5.07" fill="#0f437b"/>
<circle cx="181.34" cy="502.08" r="4.56" fill="#2b74b3"/>
<circle cx="192.40" cy="502.08" r="5.07" fill="#0f437b"/>
<circle cx="203.46" cy="502.08" r="5.18" fill="#09386c"/>
<circle cx="214.51" cy="502.08" r="4.89" fill="#195696"/>
<circle cx="225.57" cy="502.08" r="4.78" fill="#1e61a5"/>
<circle cx="148.17" cy="513.10" r="5.07" fill="#0f437b"/>
<circle cx="170.28" cy="513.10" r="5.05" fill="#10467f"/>
<circle cx="181.34" cy="513.10" r="4.89" fill="#195696"/>
<circle cx="192.40" cy="513.10" r="5.00" fill="#134b86"/>
<circle cx="203.46" cy="513.10" r="4.83" fill="#1c5c9f"/>
<circle cx="214.51" cy="513.10" r="4.95" fill="#154f8c"/>
<circle cx="225.57" cy="513.10" r="5.07" fill="#0f437b"/>
<circle cx="236.63" cy="513.10" r="4.78" fill="#1e61a5"/>
<circle cx="148.17" cy="524.13" r="4.83" fill="#1c5c9f"/>
<circle cx="159.23" cy="524.13" r="4.44" fill="#327cb8"/>
<circle cx="170.28" cy="524.13" r="5.07" fill="#0f437b"/>
<circle cx="181.34" cy="524.13" r="4.60" fill="#2870b1"/>
<circle cx="192.40" cy="524.13" r="5.05" fill="#10467f"/>
<circle cx="203.46" cy="524.13" r="5.05" fill="#10467f"/>
<circle cx="214.51" cy="524.13" r="4.60" fill="#2870b1"/>
<circle cx="225.57" cy="524.13" r="4.83" fill="#1c5c9f"/>
<circle cx="236.63" cy="524.13" r="5.05" fill="#10467f"/>
<circle cx="247.68" cy="524.13" r="4.89" fill="#195696"/>
<circle cx="148.17" cy="535.15" r="4.67" fill="#246aae"/>
<circle cx="170.28" cy="535.15" r="5.00" fill="#134b86"/>
<circle cx="181.34" cy="535.15" r="4.32" fill="#3985bc"/>
<circle cx="192.40" cy="535.15" r="5.00" fill="#134b86"/>
<circle cx="203.46" cy="535.15" r="4.95" fill="#154f8c"/>
<circle cx="214.51" cy="535.15" r="4.60" fill="#2870b1"/>
<circle cx="225.57" cy="535.15" r="4.83" fill="#1c5c9f"/>
<circle cx="236.63" cy="535.15" r="4.83" fill="#1c5c9f"/>
<circle cx="247.68" cy="535.15" r="4.67" fill="#246aae"/>
<circle cx="258.74" cy="535.15" r="4.83" fill="#1c5c9f"/>
<circle cx="148.17" cy="546.18" r="5.12" fill="#0c3e74"/>
<circle cx="170.28" cy="546.18" r="5.00" fill="#134b86"/>
<circle cx="181.34" cy="546.18" r="4.74" fill="#2065ab"/>
<circle cx="192.40" cy="546.18" r="5.00" fill="#134b86"/>
<circle cx="203.46" cy="546.18" r="4.78" fill="#1e61a5"/>
<circle cx="214.51" cy="546.18" r="4.95" fill="#154f8c"/>
<circle cx="225.57" cy="546.18" r="5.12" fill="#0c3e74"/>
<circle cx="236.63" cy="546.18" r="4.78" fill="#1e61a5"/>
<circle cx="247.68" cy="546.18" r="5.12" fill="#0c3e74"/>
<circle cx="258.74" cy="546.18" r="4.78" fill="#1e61a5"/>
<circle cx="269.80" cy="546.18" r="4.78" fill="#1e61a5"/>
<circle cx="148.17" cy="568.23" r="4.67" fill="#246aae"/>
<circle cx="170.28" cy="568.23" r="4.44" fill="#327cb8"/>
<circle cx="192.40" cy="568.23" r="4.44" fill="#327cb8"/>
<circle cx="203.46" cy="568.23" r="4.32" fill="#3985bc"/>
<circle cx="214.51" cy="568.23" r="4.32" fill="#3985bc"/>
<circle cx="225.57" cy="568.23" r="4.44" fill="#327cb8"/>
<circle cx="236.63" cy="568.23" r="4.32" fill="#3985bc"/>
<circle cx="247.68" cy="568.23" r="4.44" fill="#327cb8"/>
<circle cx="258.74" cy="568.23" r="4.28" fill="#3b88bd"/>
<circle cx="269.80" cy="568.23" r="4.32" fill="#3985bc"/>
<circle cx="280.85" cy="568.23" r="4.60" fill="#2870b1"/>
<circle cx="148.17" cy="579.26" r="4.89" fill="#195696"/>
<circle cx="170.28" cy="579.26" r="5.07" fill="#0f437b"/>
<circle cx="181.34" cy="579.26" r="4.56" fill="#2b74b3"/>
<circle cx="192.40" cy="579.26" r="5.07" fill="#0f437b"/>
<circle cx="203.46" cy="579.26" r="5.00" fill="#134b86"/>
<circle cx="214.51" cy="579.26" r="4.83" fill="#1c5c9f"/>
<circle cx="225.57" cy="579.26" r="4.83" fill="#1c5c9f"/>
<circle cx="236.63" cy="579.26" r="5.00" fill="#134b86"/>
<circle cx="247.68" cy="579.26" r="4.89" fill="#195696"/>
<circle cx="258.74" cy="579.26" r="4.83" fill="#1c5c9f"/>
<circle cx="269.80" cy="579.26" r="4.83" fill="#1c5c9f"/>
<circle cx="280.85" cy="579.26" r="4.78" fill="#1e61a5"/>
<circle cx="302.97" cy="579.26" r="4.95" fill="#154f8c"/>
<circle cx="148.17" cy="590.28" r="5.12" fill="#0c3e74"/>
<circle cx="170.28" cy="590.28" r="5.07" fill="#0f437b"/>
<circle cx="181.34" cy="590.28" r="4.74" fill="#2065ab"/>
<circle cx="192.40" cy="590.28" r="5.07" fill="#0f437b"/>
<circle cx="203.46" cy="590.28" r="4.83" fill="#1c5c9f"/>
<circle cx="214.51" cy="590.28" r="5.07" fill="#0f437b"/>
<circle cx="225.57" cy="590.28" r="5.12" fill="#0c3e74"/>
<circle cx="236.63" cy="590.28" r="4.83" fill="#1c5c9f"/>
<circle cx="247.68" cy="590.28" r="5.12" fill="#0c3e74"/>
<circle cx="258.74" cy="590.28" r="4.83" fill="#1c5c9f"/>
<circle cx="269.80" cy="590.28" r="4.89" fill="#195696"/>
<circle cx="280.85" cy="590.28" r="5.12" fill="#0c3e74"/>
<circle cx="302.97" cy="590.28" r="4.44" fill="#327cb8"/>
<circle cx="314.03" cy="590.28" r="4.95" fill="#154f8c"/>
<g font-family="Liberation Sans, sans-serif" font-size="6.9" fill="#282828" text-anchor="end">
<text x="72.15" y="351.91">AG</text>
<text x="72.15" y="362.94">AA</text>
<text x="72.15" y="373.96">AEA</text>
<text x="72.15" y="384.99">OEA</text>
<text x="72.15" y="396.02">PEA</text>
<text x="72.15" y="407.04">SEA</text>
<text x="70.15" y="418.07">Temporal Lobe</text>
<text x="72.15" y="429.09">Hippocampus</text>
<text x="70.15" y="440.12">Frontal Lobe</text>
<text x="72.15" y="451.15">Thalamus</text>
<text x="72.15" y="462.17">Striatum</text>
<text x="73.55" y="472.10">Superior frontal</text>
<text x="73.35" y="484.22">Middle frontal</text>
<text x="71.65" y="495.25">Inferior frontal</text>
<text x="70.15" y="506.28">Parietal Lobe</text>
<text x="70.15" y="517.30">Occipital Lobe</text>
<text x="72.15" y="528.33">Putamen</text>
<text x="72.15" y="539.36">Caudate Nucleus</text>
<text x="72.15" y="550.38">Insula</text>
<text x="72.15" y="561.41">Amygdala</text>
<text x="70.85" y="572.43">Anterior cingular cortex</text>
<text x="74.25" y="581.96">Posterior cingular cortex</text>
<text x="73.65" y="594.49">Whole brain</text>
</g>
<g font-family="Liberation Sans, sans-serif" font-size="6.9" fill="#282828">
<text transform="translate(85.80,337.70) rotate(-90)">AG</text>
<text transform="translate(96.80,348.73) rotate(-90)">AA</text>
<text transform="translate(107.80,359.75) rotate(-90)">AEA</text>
<text transform="translate(118.80,370.78) rotate(-90)">OEA</text>
<text transform="translate(129.80,381.80) rotate(-90)">PEA</text>
<text transform="translate(140.80,392.83) rotate(-90)">SEA</text>
<text transform="translate(151.80,403.86) rotate(-90)">Temporal Lobe</text>
<text transform="translate(162.80,414.88) rotate(-90)">Hippocampus</text>
<text transform="translate(173.80,425.91) rotate(-90)">Frontal Lobe</text>
<text transform="translate(184.80,436.93) rotate(-90)">Thalamus</text>
<text transform="translate(195.80,447.96) rotate(-90)">Striatum</text>
<text transform="translate(206.80,458.99) rotate(-90)">Superior frontal</text>
<text transform="translate(217.80,470.01) rotate(-90)">Middle frontal</text>
<text transform="translate(228.80,481.04) rotate(-90)">Inferior frontal</text>
<text transform="translate(239.80,492.06) rotate(-90)">Parietal Lobe</text>
<text transform="translate(250.80,503.09) rotate(-90)">Occipital Lobe</text>
<text transform="translate(261.80,514.12) rotate(-90)">Putamen</text>
<text transform="translate(272.80,525.14) rotate(-90)">Caudate Nucleus</text>
<text transform="translate(283.80,536.17) rotate(-90)">Insula</text>
<text transform="translate(294.80,547.19) rotate(-90)">Amygdala</text>
<text transform="translate(305.80,558.22) rotate(-90)">Anterior cingular cortex</text>
<text transform="translate(316.80,569.25) rotate(-90)">Posterior cingular cortex</text>
<text transform="translate(327.80,580.27) rotate(-90)">Whole Brain</text>
</g>
<rect x="76.30" y="601.00" width="254.31" height="9.5" fill="url(#rdbu)"/>
<rect x="76.30" y="601.00" width="254.31" height="9.5" fill="none" stroke="#9a9a9a" stroke-width="0.9"/>
<path d="M76.30 610.50v1.8M101.73 610.50v1.8M127.16 610.50v1.8M152.59 610.50v1.8M178.02 610.50v1.8M203.46 610.50v1.8M228.89 610.50v1.8M254.32 610.50v1.8M279.75 610.50v1.8M305.18 610.50v1.8M330.61 610.50v1.8" stroke="#666" stroke-width="0.6"/>
<g font-family="Liberation Sans, sans-serif" font-size="6.1" fill="#282828" text-anchor="middle"><text x="76.30" y="624.58">−1</text><text x="101.73" y="624.58">−0.8</text><text x="127.16" y="624.58">−0.6</text><text x="152.59" y="624.58">−0.4</text><text x="178.02" y="624.58">−0.2</text><text x="203.46" y="624.58">0</text><text x="228.89" y="624.58">0.2</text><text x="254.32" y="624.58">0.4</text><text x="279.75" y="624.58">0.6</text><text x="305.18" y="624.58">0.8</text><text x="330.61" y="624.58">1</text></g>
<text x="33.6" y="327.0" font-family="Liberation Sans, sans-serif" font-weight="bold" font-size="12.5" fill="#000">c</text>
<path d="M430.30 341.20V594.20M441.30 341.20V594.20M452.30 352.20V594.20M463.30 363.20V594.20M474.30 374.20V594.20M485.30 385.20V594.20M496.30 396.20V594.20M507.30 407.20V594.20M518.30 418.20V594.20M529.30 429.20V594.20M540.30 440.20V594.20M551.30 451.20V594.20M562.30 462.20V594.20M573.30 473.20V594.20M584.30 484.20V594.20M595.30 495.20V594.20M606.30 506.20V594.20M617.30 517.20V594.20M628.30 528.20V594.20M639.30 539.20V594.20M650.30 550.20V594.20M661.30 561.20V594.20M672.30 572.20V594.20M683.30 583.20V594.20" stroke="#e4e4e4" stroke-width="1" fill="none"/>
<path d="M430.30 341.20H441.30M430.30 352.20H452.30M430.30 363.20H463.30M430.30 374.20H474.30M430.30 385.20H485.30M430.30 396.20H496.30M430.30 407.20H507.30M430.30 418.20H518.30M430.30 429.20H529.30M430.30 440.20H540.30M430.30 451.20H551.30M430.30 462.20H562.30M430.30 473.20H573.30M430.30 484.20H584.30M430.30 495.20H595.30M430.30 506.20H606.30M430.30 517.20H617.30M430.30 528.20H628.30M430.30 539.20H639.30M430.30 550.20H650.30M430.30 561.20H661.30M430.30 572.20H672.30M430.30 583.20H683.30M430.30 594.20H683.30" stroke="#dadada" stroke-width="1" fill="none"/>
<circle cx="457.80" cy="379.70" r="4.23" fill="#3e8cc0"/>
<circle cx="446.80" cy="390.70" r="4.60" fill="#2870b1"/>
<circle cx="468.80" cy="390.70" r="4.60" fill="#2870b1"/>
<circle cx="435.80" cy="401.70" r="4.23" fill="#3e8cc0"/>
<circle cx="468.80" cy="401.70" r="4.13" fill="#4393c3"/>
<circle cx="479.80" cy="401.70" r="4.23" fill="#3e8cc0"/>
<circle cx="501.80" cy="423.70" r="4.67" fill="#246aae"/>
<circle cx="501.80" cy="434.70" r="5.00" fill="#134b86"/>
<circle cx="512.80" cy="434.70" r="4.67" fill="#246aae"/>
<circle cx="435.80" cy="445.70" r="4.00" fill="#dc6e58"/>
<circle cx="501.80" cy="445.70" r="4.89" fill="#195696"/>
<circle cx="512.80" cy="445.70" r="4.23" fill="#3e8cc0"/>
<circle cx="523.80" cy="445.70" r="4.56" fill="#2b74b3"/>
<circle cx="501.80" cy="456.70" r="4.89" fill="#195696"/>
<circle cx="512.80" cy="456.70" r="4.56" fill="#2b74b3"/>
<circle cx="523.80" cy="456.70" r="5.00" fill="#134b86"/>
<circle cx="534.80" cy="456.70" r="4.56" fill="#2b74b3"/>
<circle cx="501.80" cy="467.70" r="4.67" fill="#246aae"/>
<circle cx="512.80" cy="467.70" r="4.44" fill="#327cb8"/>
<circle cx="523.80" cy="467.70" r="5.07" fill="#0f437b"/>
<circle cx="534.80" cy="467.70" r="4.56" fill="#2b74b3"/>
<circle cx="545.80" cy="467.70" r="5.00" fill="#134b86"/>
<circle cx="501.80" cy="478.70" r="4.95" fill="#154f8c"/>
<circle cx="512.80" cy="478.70" r="4.78" fill="#1e61a5"/>
<circle cx="523.80" cy="478.70" r="5.18" fill="#09386c"/>
<circle cx="534.80" cy="478.70" r="4.51" fill="#2e77b5"/>
<circle cx="545.80" cy="478.70" r="5.07" fill="#0f437b"/>
<circle cx="556.80" cy="478.70" r="5.00" fill="#134b86"/>
<circle cx="501.80" cy="489.70" r="4.95" fill="#154f8c"/>
<circle cx="512.80" cy="489.70" r="4.60" fill="#2870b1"/>
<circle cx="523.80" cy="489.70" r="4.95" fill="#154f8c"/>
<circle cx="534.80" cy="489.70" r="4.74" fill="#2065ab"/>
<circle cx="545.80" cy="489.70" r="4.83" fill="#1c5c9f"/>
<circle cx="556.80" cy="489.70" r="4.60" fill="#2870b1"/>
<circle cx="567.80" cy="489.70" r="5.00" fill="#134b86"/>
<circle cx="501.80" cy="500.70" r="5.00" fill="#134b86"/>
<circle cx="512.80" cy="500.70" r="4.37" fill="#3682ba"/>
<circle cx="523.80" cy="500.70" r="4.93" fill="#165190"/>
<circle cx="534.80" cy="500.70" r="5.00" fill="#134b86"/>
<circle cx="545.80" cy="500.70" r="4.78" fill="#1e61a5"/>
<circle cx="556.80" cy="500.70" r="4.83" fill="#1c5c9f"/>
<circle cx="567.80" cy="500.70" r="4.83" fill="#1c5c9f"/>
<circle cx="578.80" cy="500.70" r="4.89" fill="#195696"/>
<circle cx="501.80" cy="511.70" r="4.95" fill="#154f8c"/>
<circle cx="512.80" cy="511.70" r="4.60" fill="#2870b1"/>
<circle cx="523.80" cy="511.70" r="4.95" fill="#154f8c"/>
<circle cx="534.80" cy="511.70" r="4.89" fill="#195696"/>
<circle cx="545.80" cy="511.70" r="4.95" fill="#154f8c"/>
<circle cx="556.80" cy="511.70" r="5.00" fill="#134b86"/>
<circle cx="567.80" cy="511.70" r="4.95" fill="#154f8c"/>
<circle cx="578.80" cy="511.70" r="4.67" fill="#246aae"/>
<circle cx="589.80" cy="511.70" r="4.95" fill="#154f8c"/>
<circle cx="501.80" cy="522.70" r="4.74" fill="#2065ab"/>
<circle cx="512.80" cy="522.70" r="4.44" fill="#327cb8"/>
<circle cx="523.80" cy="522.70" r="4.95" fill="#154f8c"/>
<circle cx="534.80" cy="522.70" r="4.44" fill="#327cb8"/>
<circle cx="545.80" cy="522.70" r="5.05" fill="#10467f"/>
<circle cx="556.80" cy="522.70" r="5.12" fill="#0c3e74"/>
<circle cx="567.80" cy="522.70" r="4.95" fill="#154f8c"/>
<circle cx="578.80" cy="522.70" r="4.44" fill="#327cb8"/>
<circle cx="589.80" cy="522.70" r="4.74" fill="#2065ab"/>
<circle cx="600.80" cy="522.70" r="5.00" fill="#134b86"/>
<circle cx="501.80" cy="533.70" r="4.51" fill="#2e77b5"/>
<circle cx="512.80" cy="533.70" r="4.37" fill="#3682ba"/>
<circle cx="523.80" cy="533.70" r="4.56" fill="#2b74b3"/>
<circle cx="534.80" cy="533.70" r="4.44" fill="#327cb8"/>
<circle cx="545.80" cy="533.70" r="4.78" fill="#1e61a5"/>
<circle cx="556.80" cy="533.70" r="4.44" fill="#327cb8"/>
<circle cx="567.80" cy="533.70" r="4.83" fill="#1c5c9f"/>
<circle cx="578.80" cy="533.70" r="4.95" fill="#154f8c"/>
<circle cx="589.80" cy="533.70" r="4.44" fill="#327cb8"/>
<circle cx="600.80" cy="533.70" r="4.56" fill="#2b74b3"/>
<circle cx="611.80" cy="533.70" r="4.37" fill="#3682ba"/>
<circle cx="501.80" cy="544.70" r="5.07" fill="#0f437b"/>
<circle cx="512.80" cy="544.70" r="4.74" fill="#2065ab"/>
<circle cx="523.80" cy="544.70" r="4.95" fill="#154f8c"/>
<circle cx="534.80" cy="544.70" r="4.89" fill="#195696"/>
<circle cx="545.80" cy="544.70" r="5.05" fill="#10467f"/>
<circle cx="556.80" cy="544.70" r="4.89" fill="#195696"/>
<circle cx="567.80" cy="544.70" r="4.95" fill="#154f8c"/>
<circle cx="578.80" cy="544.70" r="4.89" fill="#195696"/>
<circle cx="589.80" cy="544.70" r="5.05" fill="#10467f"/>
<circle cx="600.80" cy="544.70" r="5.05" fill="#10467f"/>
<circle cx="611.80" cy="544.70" r="4.95" fill="#154f8c"/>
<circle cx="622.80" cy="544.70" r="4.67" fill="#246aae"/>
<circle cx="523.80" cy="555.70" r="4.13" fill="#4393c3"/>
<circle cx="545.80" cy="555.70" r="4.08" fill="#4997c5"/>
<circle cx="556.80" cy="555.70" r="4.13" fill="#4393c3"/>
<circle cx="567.80" cy="555.70" r="4.23" fill="#3e8cc0"/>
<circle cx="578.80" cy="555.70" r="4.23" fill="#3e8cc0"/>
<circle cx="622.80" cy="555.70" r="4.23" fill="#3e8cc0"/>
<circle cx="512.80" cy="566.70" r="4.08" fill="#4997c5"/>
<circle cx="523.80" cy="566.70" r="4.13" fill="#4393c3"/>
<circle cx="556.80" cy="566.70" r="4.32" fill="#3985bc"/>
<circle cx="567.80" cy="566.70" r="4.23" fill="#3e8cc0"/>
<circle cx="589.80" cy="566.70" r="4.13" fill="#4393c3"/>
<circle cx="600.80" cy="566.70" r="4.13" fill="#4393c3"/>
<circle cx="644.80" cy="566.70" r="4.23" fill="#3e8cc0"/>
<circle cx="501.80" cy="577.70" r="4.74" fill="#2065ab"/>
<circle cx="512.80" cy="577.70" r="4.74" fill="#2065ab"/>
<circle cx="523.80" cy="577.70" r="4.89" fill="#195696"/>
<circle cx="534.80" cy="577.70" r="4.60" fill="#2870b1"/>
<circle cx="545.80" cy="577.70" r="4.78" fill="#1e61a5"/>
<circle cx="556.80" cy="577.70" r="4.95" fill="#154f8c"/>
<circle cx="567.80" cy="577.70" r="4.89" fill="#195696"/>
<circle cx="578.80" cy="577.70" r="4.67" fill="#246aae"/>
<circle cx="589.80" cy="577.70" r="4.74" fill="#2065ab"/>
<circle cx="600.80" cy="577.70" r="4.95" fill="#154f8c"/>
<circle cx="611.80" cy="577.70" r="4.89" fill="#195696"/>
<circle cx="622.80" cy="577.70" r="4.44" fill="#327cb8"/>
<circle cx="633.80" cy="577.70" r="4.89" fill="#195696"/>
<circle cx="644.80" cy="577.70" r="4.23" fill="#3e8cc0"/>
<circle cx="655.80" cy="577.70" r="4.60" fill="#2870b1"/>
<circle cx="501.80" cy="588.70" r="5.00" fill="#134b86"/>
<circle cx="512.80" cy="588.70" r="4.78" fill="#1e61a5"/>
<circle cx="523.80" cy="588.70" r="5.12" fill="#0c3e74"/>
<circle cx="534.80" cy="588.70" r="4.60" fill="#2870b1"/>
<circle cx="545.80" cy="588.70" r="5.07" fill="#0f437b"/>
<circle cx="556.80" cy="588.70" r="5.07" fill="#0f437b"/>
<circle cx="567.80" cy="588.70" r="5.12" fill="#0c3e74"/>
<circle cx="578.80" cy="588.70" r="4.95" fill="#154f8c"/>
<circle cx="589.80" cy="588.70" r="4.89" fill="#195696"/>
<circle cx="600.80" cy="588.70" r="5.12" fill="#0c3e74"/>
<circle cx="611.80" cy="588.70" r="5.00" fill="#134b86"/>
<circle cx="622.80" cy="588.70" r="4.67" fill="#246aae"/>
<circle cx="633.80" cy="588.70" r="5.12" fill="#0c3e74"/>
<circle cx="655.80" cy="588.70" r="4.37" fill="#3682ba"/>
<circle cx="666.80" cy="588.70" r="4.95" fill="#154f8c"/>
<g font-family="Liberation Sans, sans-serif" font-size="6.9" fill="#282828" text-anchor="end">
<text x="424.35" y="348.20">AG</text>
<text x="424.35" y="359.20">AA</text>
<text x="424.35" y="370.20">AEA</text>
<text x="424.35" y="381.20">OEA</text>
<text x="424.35" y="392.20">PEA</text>
<text x="424.35" y="403.20">SEA</text>
<text x="422.35" y="414.20">Temporal Lobe</text>
<text x="424.35" y="425.20">Hippocampus</text>
<text x="422.35" y="436.20">Frontal Lobe</text>
<text x="424.35" y="447.20">Thalamus</text>
<text x="424.35" y="458.20">Striatum</text>
<text x="425.75" y="468.10">Superior frontal</text>
<text x="425.55" y="480.20">Middle frontal</text>
<text x="423.85" y="491.20">Inferior frontal</text>
<text x="422.35" y="502.20">Parietal Lobe</text>
<text x="422.35" y="513.20">Occipital Lobe</text>
<text x="424.35" y="524.20">Putamen</text>
<text x="424.35" y="535.20">CaudateNucl</text>
<text x="424.35" y="546.20">Insula</text>
<text x="424.35" y="557.20">Amygdala</text>
<text x="423.05" y="568.20">Anterior cingular cortex</text>
<text x="426.45" y="577.70">Posterior cingular cortex</text>
<text x="425.85" y="590.20">Whole brain</text>
</g>
<g font-family="Liberation Sans, sans-serif" font-size="6.9" fill="#282828">
<text transform="translate(439.10,336.10) rotate(-90)">AG</text>
<text transform="translate(450.10,347.10) rotate(-90)">AA</text>
<text transform="translate(461.10,358.10) rotate(-90)">AEA</text>
<text transform="translate(472.10,369.10) rotate(-90)">OEA</text>
<text transform="translate(483.10,380.10) rotate(-90)">PEA</text>
<text transform="translate(494.10,391.10) rotate(-90)">SEA</text>
<text transform="translate(505.10,402.10) rotate(-90)">Temporal Lobe</text>
<text transform="translate(516.10,413.10) rotate(-90)">Hippocampus</text>
<text transform="translate(527.10,424.10) rotate(-90)">Frontal Lobe</text>
<text transform="translate(538.10,435.10) rotate(-90)">Thalamus</text>
<text transform="translate(549.10,446.10) rotate(-90)">Striatum</text>
<text transform="translate(560.10,457.10) rotate(-90)">Superior frontal</text>
<text transform="translate(571.10,468.10) rotate(-90)">Middle frontal</text>
<text transform="translate(582.10,479.10) rotate(-90)">Inferior frontal</text>
<text transform="translate(593.10,490.10) rotate(-90)">Parietal Lobe</text>
<text transform="translate(604.10,501.10) rotate(-90)">Occipital Lobe</text>
<text transform="translate(615.10,512.10) rotate(-90)">Putamen</text>
<text transform="translate(626.10,523.10) rotate(-90)">Caudate Nucleus</text>
<text transform="translate(637.10,534.10) rotate(-90)">Insula</text>
<text transform="translate(648.10,545.10) rotate(-90)">Amygdala</text>
<text transform="translate(659.10,556.10) rotate(-90)">Anterior cingular cortex</text>
<text transform="translate(670.10,567.10) rotate(-90)">Posterior cingular cortex</text>
<text transform="translate(681.10,578.10) rotate(-90)">Whole Brain</text>
</g>
<rect x="430.30" y="599.40" width="253.00" height="9.5" fill="url(#rdbu)"/>
<rect x="430.30" y="599.40" width="253.00" height="9.5" fill="none" stroke="#9a9a9a" stroke-width="0.9"/>
<path d="M430.30 608.90v1.8M455.60 608.90v1.8M480.90 608.90v1.8M506.20 608.90v1.8M531.50 608.90v1.8M556.80 608.90v1.8M582.10 608.90v1.8M607.40 608.90v1.8M632.70 608.90v1.8M658.00 608.90v1.8M683.30 608.90v1.8" stroke="#666" stroke-width="0.6"/>
<g font-family="Liberation Sans, sans-serif" font-size="6.3" fill="#282828" text-anchor="middle"><text x="430.30" y="622.86">−1</text><text x="455.60" y="622.86">−0.8</text><text x="480.90" y="622.86">−0.6</text><text x="506.20" y="622.86">−0.4</text><text x="531.50" y="622.86">−0.2</text><text x="556.80" y="622.86">0</text><text x="582.10" y="622.86">0.2</text><text x="607.40" y="622.86">0.4</text><text x="632.70" y="622.86">0.6</text><text x="658.00" y="622.86">0.8</text><text x="683.30" y="622.86">1</text></g>
<text x="357.9" y="327.0" font-family="Liberation Sans, sans-serif" font-weight="bold" font-size="12.5" fill="#000">d</text>
</svg></body></html>
